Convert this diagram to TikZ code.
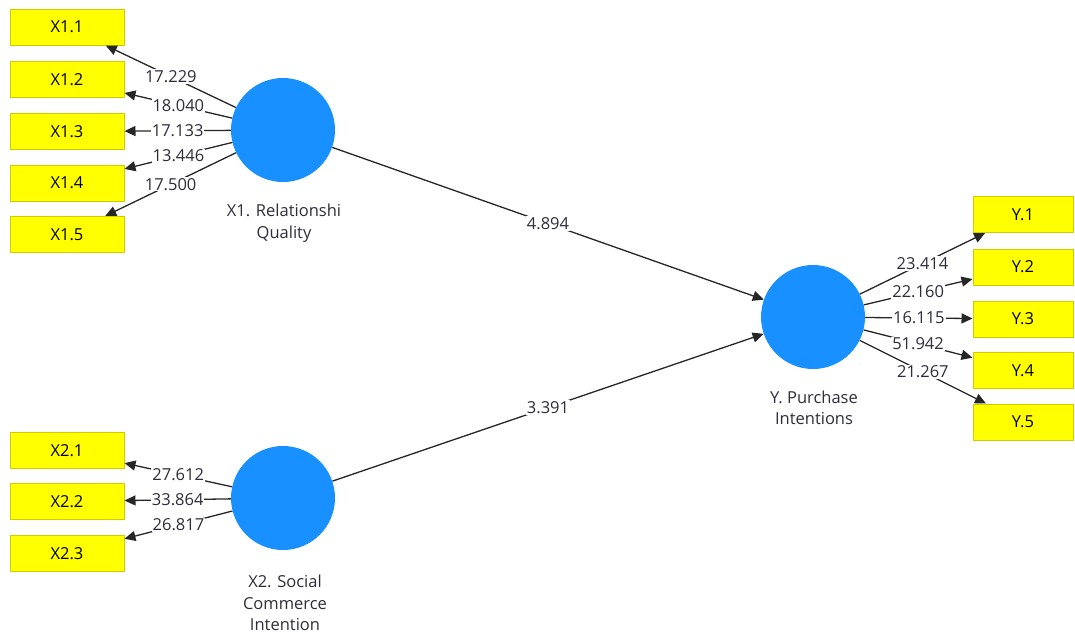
\documentclass[tikz,border=0pt]{standalone}
\usepackage{fontspec}
\setmainfont{Open Sans}
\usetikzlibrary{arrows.meta}
\definecolor{boxyellow}{RGB}{255,255,0}
\definecolor{boxedge}{RGB}{205,205,0}
\definecolor{lvblue}{RGB}{24,144,255}
\definecolor{txtgray}{RGB}{45,45,60}
\begin{document}
\begin{tikzpicture}[x=1pt,y=-1pt,
 ind/.style={draw=boxedge, fill=boxyellow, line width=1pt, minimum width=114pt, minimum height=36pt, inner sep=0pt, font=\fontsize{16.5}{19}\selectfont},
 indy/.style={ind, minimum width=100pt},
 lv/.style={circle, fill=lvblue, minimum size=104pt, inner sep=0pt},
 lvlabel/.style={align=center, text=txtgray, font=\fontsize{16.5}{21.5}\selectfont},
 link/.style={draw=black!85, line width=1.3pt, -{Triangle[length=11pt,width=10pt]}},
 val/.style={fill=white, text=txtgray, inner sep=1pt, font=\fontsize{16.5}{19}\selectfont, pos=0.5}
]
\useasboundingbox (0,0) rectangle (1075,635);
% latent variables
\node[lv] (X1) at (283,130) {};
\node[lv] (X2) at (283,498) {};
\node[lv] (Y) at (813,317) {};
\node[lvlabel] (X1l) at (284,223) {X1. Relationshi\\Quality};
\node[lvlabel] (X2l) at (285,603) {X2. Social\\Commerce\\Intention};
\node[lvlabel] (Yl) at (814,408) {Y. Purchase\\Intentions};
% indicators
\node[ind] (X11) at (67,27) {X1.1};
\node[ind] (X12) at (67,79.5) {X1.2};
\node[ind] (X13) at (67,131.5) {X1.3};
\node[ind] (X14) at (67,183) {X1.4};
\node[ind] (X15) at (67,234.5) {X1.5};
\node[ind] (X21) at (67,450.5) {X2.1};
\node[ind] (X22) at (67,501.5) {X2.2};
\node[ind] (X23) at (67,553.5) {X2.3};
\node[indy] (Y1) at (1023,214.5) {Y.1};
\node[indy] (Y2) at (1023,267) {Y.2};
\node[indy] (Y3) at (1023,319) {Y.3};
\node[indy] (Y4) at (1023,370.5) {Y.4};
\node[indy] (Y5) at (1023,422) {Y.5};
% outer loadings
\draw[link] (X1) -- node[val]{17.229} (X11);
\draw[link] (X1) -- node[val]{18.040} (X12);
\draw[link] (X1) -- node[val]{17.133} (X13);
\draw[link] (X1) -- node[val]{13.446} (X14);
\draw[link] (X1) -- node[val]{17.500} (X15);
\draw[link] (X2) -- node[val]{27.612} (X21);
\draw[link] (X2) -- node[val]{33.864} (X22);
\draw[link] (X2) -- node[val]{26.817} (X23);
\draw[link] (Y) -- node[val]{23.414} (Y1);
\draw[link] (Y) -- node[val]{22.160} (Y2);
\draw[link] (Y) -- node[val]{16.115} (Y3);
\draw[link] (Y) -- node[val]{51.942} (Y4);
\draw[link] (Y) -- node[val]{21.267} (Y5);
% structural paths
\draw[link] (X1) -- node[val]{4.894} (Y);
\draw[link] (X2) -- node[val]{3.391} (Y);
\end{tikzpicture}
\end{document}
